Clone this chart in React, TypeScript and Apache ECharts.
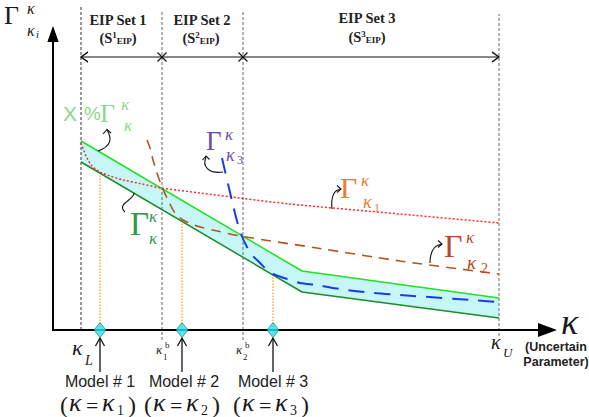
import React, { useEffect, useRef } from 'react';
import * as echarts from 'echarts';

// Diagram units: κ runs along x (0 = vertical axis), Γ runs up (0 = horizontal axis)
const guideK = [28, 109, 190, 446]; // κL, κ1b, κ2b, κU
const guideTop = [323, 320, 320, 316];
const guideBottom = [0, -10, -10, -6];
const setArrowK = [28, 109, 190, 446];
const setArrowLevel = 273;
const axisMaxK = 504;
const axisMaxG = 303;

const bandK = [28, 249, 446];
const bandUpper = [189, 59, 32];
const bandLower = [168, 38, 12];

const gamma1K = [28, 31, 34, 39, 47, 57, 70, 87, 108, 147, 187, 237, 347, 446];
const gamma1V = [187, 179, 172, 164, 158, 154, 150, 146.5, 142, 137, 132, 126, 116, 107];

const gamma2K = [94, 97, 100, 104, 109, 115, 122, 130, 144, 162, 187, 267, 347, 446];
const gamma2V = [190, 182, 170, 157, 143, 130, 117, 110, 104, 99.5, 94, 81.5, 69, 56];

const gamma3K = [169, 172, 176, 180, 184, 188, 194, 200, 207, 213, 220, 234, 247, 264, 287, 320, 347, 446];
const gamma3V = [172, 159, 142, 125, 109, 96, 83, 74, 67, 61, 56, 51, 47, 45, 41, 37, 35, 28];

const modelK = [47, 129, 220];
const modelTouch = [158, 110, 56];
const modelNames = ['Model # 1', 'Model # 2', 'Model # 3'];
const modelSubs = ['1', '2', '3'];

const serif = '"Liberation Serif", "Times New Roman", serif';
const sans = '"Liberation Sans", Arial, sans-serif';

const zip = (a: number[], b: number[]) => a.map((v, i) => [v, b[i]]);

function T(x: number, y: number, text: string, font: string, fill: string, align = 'left', extra: any = {}) {
  return {
    type: 'text', x, y, silent: true, z: 50,
    style: { text, font, fill, align, verticalAlign: 'middle', textAlign: align, textVerticalAlign: 'middle', ...extra },
  };
}
function kap(x: number, cy: number, fs: number, fill: string) {
  return T(x, cy - 0.11 * fs, 'κ', `italic ${fs}px ${serif}`, fill);
}
function curl(p: number[], head: number[][] | null) {
  const els: any[] = [{
    type: 'bezierCurve', silent: true, z: 50,
    shape: { x1: p[0], y1: p[1], cpx1: p[2], cpy1: p[3], cpx2: p[4], cpy2: p[5], x2: p[6], y2: p[7] },
    style: { stroke: '#111', fill: 'none', lineWidth: 1.1 },
  }];
  if (head) els.push({ type: 'polyline', silent: true, z: 50, shape: { points: head }, style: { stroke: '#111', fill: 'none', lineWidth: 1.1 } });
  return els;
}

export default function App() {
  const ref = useRef<HTMLDivElement>(null);
  useEffect(() => {
    document.body.style.margin = '0';
    const chart = echarts.init(ref.current!, null, { renderer: 'svg' });
    const chevL = 'path://M10,0L0,5L10,10';
    const chevR = 'path://M0,0L10,5L0,10';
    const cross = 'path://M0,0L10,10M10,0L0,10';
    const chevU = 'path://M0,10L5,0L10,10';

    const series: any[] = [];
    // cyan band between the two green bounds
    series.push({
      type: 'custom', silent: true, z: 1, clip: false,
      data: [[bandK[0], bandLower[0]]],
      renderItem: (_p: any, api: any) => {
        const pts = [
          ...bandK.map((k, i) => api.coord([k, bandUpper[i]])),
          ...bandK.slice().reverse().map((k, j) => api.coord([k, bandLower[bandK.length - 1 - j]])),
        ];
        return { type: 'polygon', shape: { points: pts }, style: { fill: '#c6f6f6', stroke: 'none' } };
      },
    });
    guideK.forEach((k, i) => {
      series.push({
        type: 'line', clip: false, silent: true, symbol: 'none', z: 2,
        data: [[k, guideBottom[i]], [k, guideTop[i]]],
        lineStyle: { color: i === 0 ? '#333' : '#666', width: 1, type: [3, 2] },
      });
    });
    series.push({
      type: 'line', clip: false, silent: true, symbol: 'none', z: 4,
      data: setArrowK.map((k, i) => {
        const last = i === setArrowK.length - 1;
        const sym = i === 0 ? chevL : last ? chevR : cross;
        return {
          value: [k, setArrowLevel], symbol: sym,
          symbolSize: i === 0 || last ? [7, 10] : [9, 9],
          symbolOffset: i === 0 ? [3.5, 0] : last ? [-3.5, 0] : [0, 0],
        };
      }),
      itemStyle: { color: 'none', borderColor: '#111', borderWidth: 1.2 },
      lineStyle: { color: '#111', width: 1.2 },
    });
    series.push({
      type: 'line', silent: true, symbol: 'none', z: 3,
      data: zip(bandK, bandLower), lineStyle: { color: '#1e8a2a', width: 1.5 },
    });
    series.push({
      type: 'line', silent: true, symbol: 'none', z: 3,
      data: zip(bandK, bandUpper), lineStyle: { color: '#22e022', width: 1.5 },
    });
    // model projection lines
    modelK.forEach((k, i) => {
      series.push({
        type: 'line', silent: true, symbol: 'none', z: 2,
        data: [[k, 0], [k, modelTouch[i]]],
        lineStyle: { color: '#ff9a10', width: 1.2, type: [1.5, 1.5] },
      });
      series.push({
        type: 'line', clip: false, silent: true, symbol: 'none', z: 4,
        data: [[k, -42], { value: [k, -8], symbol: chevU, symbolSize: [9, 8], symbolOffset: [0, 4] }],
        itemStyle: { color: 'none', borderColor: '#111', borderWidth: 1.2 },
        lineStyle: { color: '#111', width: 1.3 },
      });
    });
    series.push({
      type: 'line', silent: true, symbol: 'none', z: 4, smooth: 0.3,
      data: zip(gamma1K, gamma1V), lineStyle: { color: '#ff2a2a', width: 1.5, type: [2, 2] },
    });
    series.push({
      type: 'line', silent: true, symbol: 'none', z: 4, smooth: 0.3,
      data: zip(gamma2K, gamma2V), lineStyle: { color: '#b5541c', width: 1.6, type: [10, 7] },
    });
    series.push({
      type: 'line', silent: true, symbol: 'none', z: 4, smooth: 0.3,
      data: zip(gamma3K, gamma3V), lineStyle: { color: '#1a3be8', width: 2, type: [16, 10] },
    });
    series.push({
      type: 'scatter', clip: false, silent: true, z: 6,
      data: modelK.map((k) => [k, 0]), symbol: 'diamond', symbolSize: [12, 15],
      itemStyle: { color: '#27e3ea', borderColor: '#1b6e73', borderWidth: 0.8 },
    });
    // axes with filled arrowheads
    series.push({
      type: 'custom', silent: true, z: 5, clip: false,
      data: [[0, 0]],
      renderItem: (_p: any, api: any) => {
        const o = api.coord([0, 0]);
        const top = api.coord([0, axisMaxG]);
        const right = api.coord([axisMaxK, 0]);
        return {
          type: 'group',
          children: [
            { type: 'line', shape: { x1: o[0], y1: o[1], x2: top[0], y2: top[1] + 10 }, style: { stroke: '#000', lineWidth: 2 } },
            { type: 'line', shape: { x1: o[0] - 1, y1: o[1], x2: right[0] - 12, y2: right[1] }, style: { stroke: '#000', lineWidth: 2 } },
            { type: 'polygon', shape: { points: [[top[0], top[1]], [top[0] + 5.5, top[1] + 15], [top[0] - 5.5, top[1] + 15]] }, style: { fill: '#000' } },
            { type: 'polygon', shape: { points: [[right[0], right[1]], [right[0] - 19, right[1] - 7], [right[0] - 19, right[1] + 7]] }, style: { fill: '#000' } },
          ],
        };
      },
    });

    const ink = '#1a1a1a';
    const lg = '#8fd68f', dg = '#2f9a4f', pu = '#6a4fa6', or = '#f07a32', br = '#b34a2c';
    const formula = (cx: number, sub: string) => [
      T(cx - 40, 405, '(', `24px ${serif}`, ink),
      kap(cx - 31, 405, 26, ink),
      T(cx - 14, 405, '=', `22px ${serif}`, ink),
      kap(cx + 2, 405, 26, ink),
      T(cx + 17, 410, sub, `14px ${serif}`, ink),
      T(cx + 28, 405, ')', `24px ${serif}`, ink),
    ];
    const graphics: any[] = [
      // y axis arrowhead (decoration)
      { type: 'polygon', silent: true, z: 60, shape: { points: [[53, 26], [58.5, 42], [47.5, 42]] }, style: { fill: '#000' } },
      // y axis label
      T(4, 15, 'Γ', `26px ${serif}`, ink), kap(27, 10, 16, ink), kap(27, 32, 16, ink),
      T(36, 34, 'i', `italic 11px ${serif}`, ink),
      // EIP sets
      T(118, 20, 'EIP Set 1', `bold 14.5px ${serif}`, '#222', 'center'),
      T(202, 20, 'EIP Set 2', `bold 14.5px ${serif}`, '#222', 'center'),
      T(367, 18, 'EIP Set 3', `bold 14.5px ${serif}`, '#222', 'center'),
      ...['1', '2', '3'].map((n, i) => T([118, 201, 367][i], [38, 38, 37][i], `{a|(S}{b|${n}}{c|EIP}{a|)}`, `bold 14px ${serif}`, '#222', 'center', {
        rich: {
          a: { fontFamily: serif, fontSize: 14.5, fontWeight: 'bold', fill: '#222' },
          b: { fontFamily: serif, fontSize: 9, fontWeight: 'bold', fill: '#222', verticalAlign: 'top' },
          c: { fontFamily: serif, fontSize: 9, fontWeight: 'bold', fill: '#222', verticalAlign: 'bottom' },
        },
      })),
      // X % Γ
      T(63, 113, 'X', `21px ${sans}`, lg), T(84, 113, '%', `19px ${sans}`, lg),
      T(100, 113.5, 'Γ', `26px ${serif}`, lg),
      kap(121, 106, 17, lg), kap(124, 127, 17, lg),
      // dark green
      T(130, 224, 'Γ', `33px ${serif}`, dg), kap(149, 218, 17, dg), kap(149, 240, 17, dg),
      // purple
      T(206, 141, 'Γ', `27px ${serif}`, pu), kap(225, 136, 17, pu), kap(226, 157, 18, pu),
      T(237, 160, '3', `12px ${serif}`, pu),
      // orange
      T(340, 187, 'Γ', `30px ${serif}`, or), kap(361, 182, 17, or), kap(363, 204, 18, or),
      T(374, 208, '1', `12px ${serif}`, or),
      // brown
      T(444, 246, 'Γ', `32px ${serif}`, br), kap(466, 239, 17, br), kap(467, 265, 19, br),
      T(481, 268, '2', `14px ${serif}`, br),
      // curly arrows
      ...curl([98, 151, 112, 146, 112, 138, 107, 130], [[103, 134], [107, 129.5], [111, 133]]),
      ...curl([125, 212, 116, 204, 134, 200, 134, 193], null),
      ...curl([223, 172, 208, 174, 202, 166, 206, 157], [[202.5, 160], [206, 156], [209.5, 159.5]]),
      ...curl([332, 209, 331, 199, 333, 190, 341, 189], [[337, 185.5], [341, 189], [337, 192.5]]),
      ...curl([430, 263, 430, 252, 434, 245, 442, 244], [[438, 240.5], [442, 244], [438, 247.5]]),
      // bottom axis labels
      kap(72, 350, 22, ink), T(85, 360, 'L', `italic 14px ${serif}`, ink),
      kap(156, 351, 13, ink), T(165, 345, 'b', `9px ${serif}`, ink), T(163, 357, '1', `9px ${serif}`, ink),
      kap(236, 351, 13, ink), T(245, 345, 'b', `9px ${serif}`, ink), T(243, 357, '2', `9px ${serif}`, ink),
      kap(491, 344, 20, ink), T(503, 352, 'U', `italic 13px ${serif}`, ink),
      kap(561, 326, 36, ink),
      T(556, 347, '(Uncertain', `bold 12.5px ${sans}`, '#222', 'center'),
      T(556, 362, 'Parameter)', `bold 12.5px ${sans}`, '#222', 'center'),
      ...modelK.map((k, i) => T([100, 184, 273][i], 381, modelNames[i], `16px ${sans}`, '#222', 'center')),
      ...formula(100, modelSubs[0]), ...formula(184, modelSubs[1]), ...formula(273, modelSubs[2]),
    ];

    chart.setOption({
      animation: false,
      grid: { left: 53, top: 27, right: 32, bottom: 87 },
      xAxis: {
        type: 'value', min: 0, max: axisMaxK,
        axisLine: { show: false }, axisTick: { show: false }, axisLabel: { show: false }, splitLine: { show: false },
      },
      yAxis: {
        type: 'value', min: 0, max: axisMaxG,
        axisLine: { show: false }, axisTick: { show: false }, axisLabel: { show: false }, splitLine: { show: false },
      },
      series,
      graphic: graphics,
    });
    return () => chart.dispose();
  }, []);
  return <div ref={ref} style={{ width: 589, height: 417 }} />;
}
